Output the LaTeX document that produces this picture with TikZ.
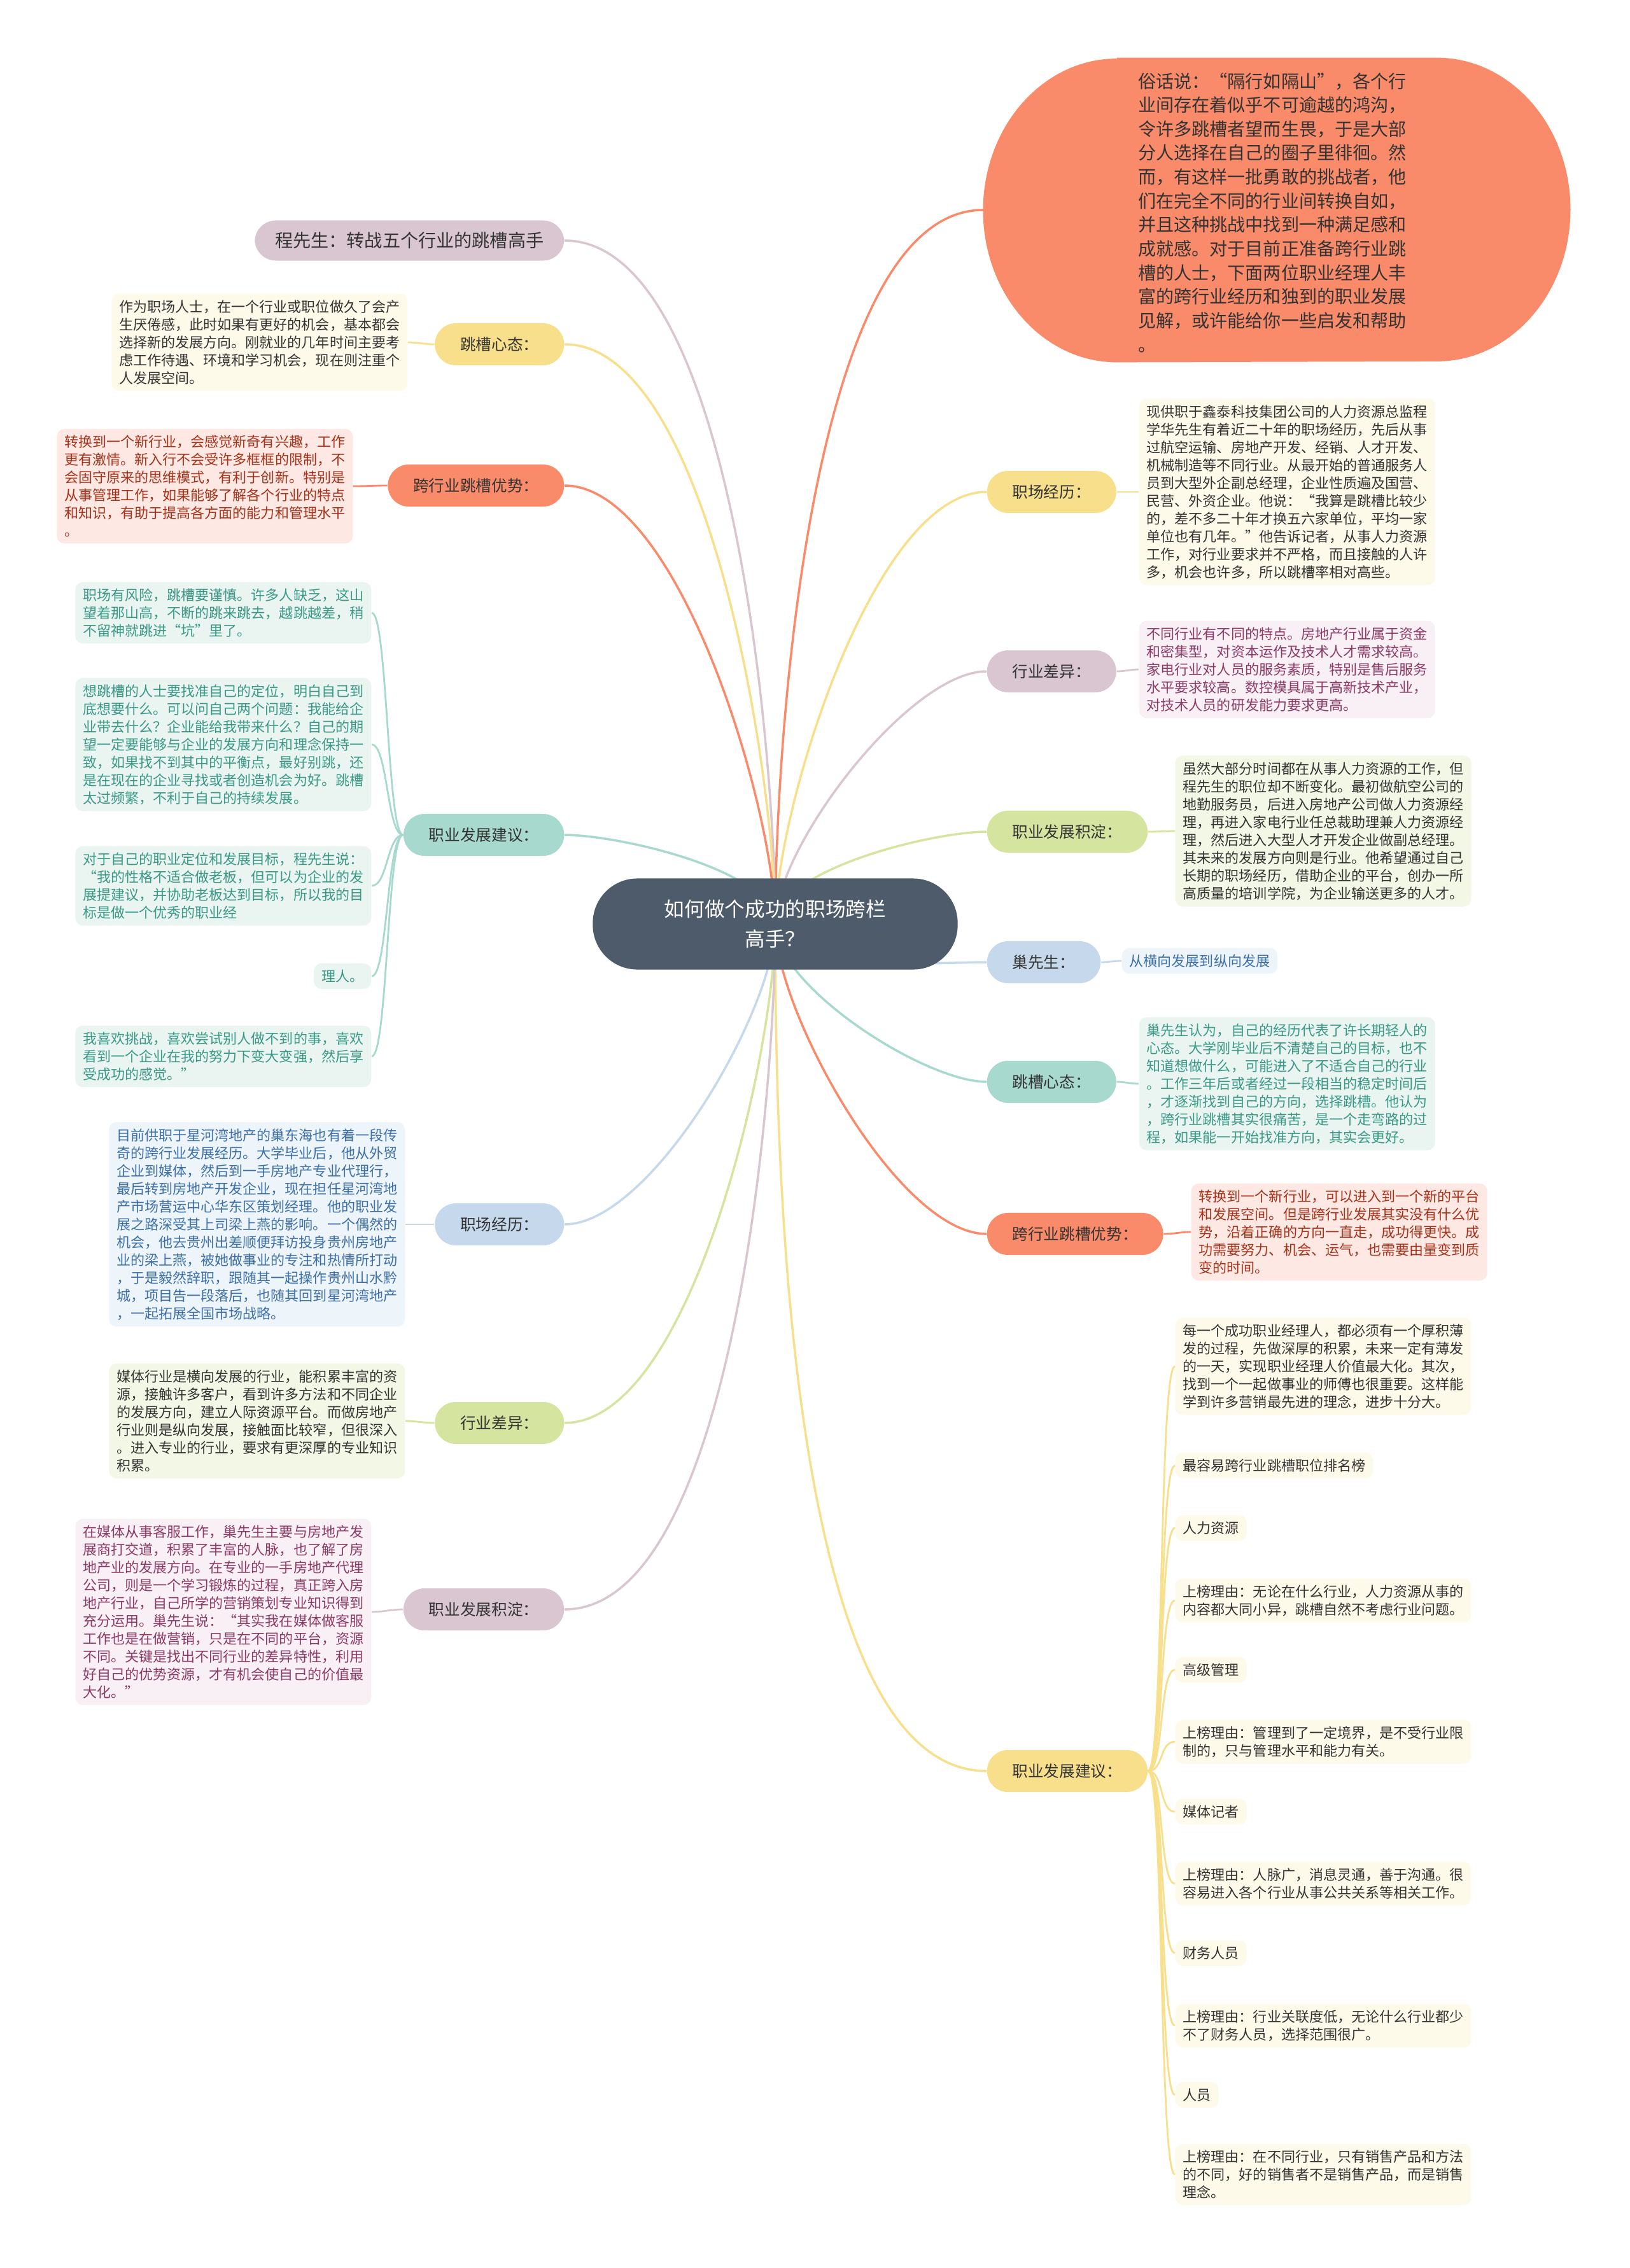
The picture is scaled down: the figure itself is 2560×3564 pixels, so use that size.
\documentclass[tikz,border=0pt]{standalone}
\usepackage{fontspec}
\setmainfont{Noto Sans CJK SC}
\usetikzlibrary{backgrounds}

\begin{document}
\begin{tikzpicture}[x=0.01cm, y=0.01cm,
    root/.style={fill=rootFill, text=white, rounded corners=0.7cm, minimum width=5.73cm, minimum height=1.43cm, align=center, font=\fontsize{9}{13.4}\selectfont},
    branch/.style={rounded corners=0.33cm, minimum height=0.66cm, inner xsep=0.4cm, inner ysep=0pt, text=textGrey, font=\fontsize{7}{8.5}\selectfont},
    leaf/.style={rounded corners=0.12cm, inner xsep=0.12cm, inner ysep=0.1cm, align=left, font=\fontsize{6.27}{7.97}\selectfont},
    trunk/.style={line width=1pt},
    twig/.style={line width=0.8pt}]

    \definecolor{rootFill}{HTML}{4D5B6A}
    \definecolor{textGrey}{HTML}{333333}
    \definecolor{coralFill}{HTML}{F98B6B}
    \definecolor{yellowFill}{HTML}{F8DF8C}
    \definecolor{mauveFill}{HTML}{D9C6D1}
    \definecolor{tealFill}{HTML}{A8D9CE}
    \definecolor{blueFill}{HTML}{C6D9EC}
    \definecolor{greenFill}{HTML}{D5E59F}
    \definecolor{coralLeaf}{HTML}{FDE8E3}
    \definecolor{yellowLeaf}{HTML}{FEFAEA}
    \definecolor{mauveLeaf}{HTML}{F8F0F4}
    \definecolor{tealLeaf}{HTML}{EAF5F2}
    \definecolor{blueLeaf}{HTML}{EDF4FA}
    \definecolor{greenLeaf}{HTML}{F3F7E5}
    \definecolor{coralText}{HTML}{A6321A}
    \definecolor{mauveText}{HTML}{8C3A66}
    \definecolor{tealText}{HTML}{3A9886}
    \definecolor{blueText}{HTML}{3D6FA8}

    \useasboundingbox (0,0) rectangle (2560,-3564);

    % Central topic
    \node[root] (root) at (1218,-1452) {如何做个成功的职场跨栏\\高手？};

    % Intro bubble (flat top and bottom, elliptic sides)
    \node[minimum width=9.21cm, minimum height=4.77cm, inner sep=0pt] (intro) at (2006,-330) {};
    \fill[coralFill] ([xshift=2.1cm]intro.north west) -- ([xshift=-2.1cm]intro.north east)
        arc[start angle=90, end angle=-90, x radius=2.1cm, y radius=2.385cm]
        -- ([xshift=2.1cm]intro.south west)
        arc[start angle=270, end angle=90, x radius=2.1cm, y radius=2.385cm] -- cycle;
    \node[align=left, text=textGrey, font=\fontsize{8}{10.7}\selectfont] (introText) at (1999,-334) {俗话说：“隔行如隔山”，各个行\\
业间存在着似乎不可逾越的鸿沟，\\
令许多跳槽者望而生畏，于是大部\\
分人选择在自己的圈子里徘徊。然\\
而，有这样一批勇敢的挑战者，他\\
们在完全不同的行业间转换自如，\\
并且这种挑战中找到一种满足感和\\
成就感。对于目前正准备跨行业跳\\
槽的人士，下面两位职业经理人丰\\
富的跨行业经历和独到的职业发展\\
见解，或许能给你一些启发和帮助\\
。};

    % Left branches
    \node[branch, fill=mauveFill, inner xsep=0.32cm, minimum height=0.63cm, font=\fontsize{8}{9.6}\selectfont, anchor=east] (lTitle) at (887,-378) {程先生：转战五个行业的跳槽高手};
    \node[branch, fill=yellowFill, anchor=east] (lMind) at (887,-541) {跳槽心态：};
    \node[branch, fill=coralFill, anchor=east] (lGood) at (887,-763) {跨行业跳槽优势：};
    \node[branch, fill=tealFill, anchor=east] (lAdvice) at (887,-1312) {职业发展建议：};
    \node[branch, fill=blueFill, anchor=east] (lCareer) at (887,-1924) {职场经历：};
    \node[branch, fill=greenFill, anchor=east] (lDiff) at (887,-2236) {行业差异：};
    \node[branch, fill=mauveFill, anchor=east] (lBase) at (887,-2529) {职业发展积淀：};

    % Right branches
    \node[branch, fill=yellowFill, anchor=west] (rCareer) at (1550,-773) {职场经历：};
    \node[branch, fill=mauveFill, anchor=west] (rDiff) at (1550,-1055) {行业差异：};
    \node[branch, fill=greenFill, anchor=west] (rBase) at (1550,-1307) {职业发展积淀：};
    \node[branch, fill=blueFill, anchor=west] (rChao) at (1550,-1512) {巢先生：};
    \node[branch, fill=tealFill, anchor=west] (rMind) at (1550,-1700) {跳槽心态：};
    \node[branch, fill=coralFill, anchor=west] (rGood) at (1550,-1939) {跨行业跳槽优势：};
    \node[branch, fill=yellowFill, anchor=west] (rAdvice) at (1550,-2783) {职业发展建议：};

    % Left leaves
    \node[leaf, fill=yellowLeaf, text=textGrey, anchor=east] (lMindLeaf) at (641,-538) {作为职场人士，在一个行业或职位做久了会产\\
生厌倦感，此时如果有更好的机会，基本都会\\
选择新的发展方向。刚就业的几年时间主要考\\
虑工作待遇、环境和学习机会，现在则注重个\\
人发展空间。};
    \node[leaf, fill=coralLeaf, text=coralText, anchor=east] (lGoodLeaf) at (555,-764) {转换到一个新行业，会感觉新奇有兴趣，工作\\
更有激情。新入行不会受许多框框的限制，不\\
会固守原来的思维模式，有利于创新。特别是\\
从事管理工作，如果能够了解各个行业的特点\\
和知识，有助于提高各方面的能力和管理水平\\
。};
    \node[leaf, fill=tealLeaf, text=tealText, anchor=east] (lAdvA) at (584,-963) {职场有风险，跳槽要谨慎。许多人缺乏，这山\\
望着那山高，不断的跳来跳去，越跳越差，稍\\
不留神就跳进“坑”里了。};
    \node[leaf, fill=tealLeaf, text=tealText, anchor=east] (lAdvB) at (584,-1170) {想跳槽的人士要找准自己的定位，明白自己到\\
底想要什么。可以问自己两个问题：我能给企\\
业带去什么？企业能给我带来什么？自己的期\\
望一定要能够与企业的发展方向和理念保持一\\
致，如果找不到其中的平衡点，最好别跳，还\\
是在现在的企业寻找或者创造机会为好。跳槽\\
太过频繁，不利于自己的持续发展。};
    \node[leaf, fill=tealLeaf, text=tealText, anchor=east] (lAdvC) at (584,-1392) {对于自己的职业定位和发展目标，程先生说：\\
“我的性格不适合做老板，但可以为企业的发\\
展提建议，并协助老板达到目标，所以我的目\\
标是做一个优秀的职业经};
    \node[leaf, fill=tealLeaf, text=tealText, anchor=east] (lAdvD) at (584,-1534) {理人。};
    \node[leaf, fill=tealLeaf, text=tealText, anchor=east] (lAdvE) at (584,-1660) {我喜欢挑战，喜欢尝试别人做不到的事，喜欢\\
看到一个企业在我的努力下变大变强，然后享\\
受成功的感觉。”};
    \node[leaf, fill=blueLeaf, text=blueText, anchor=east] (lCareerLeaf) at (637,-1924) {目前供职于星河湾地产的巢东海也有着一段传\\
奇的跨行业发展经历。大学毕业后，他从外贸\\
企业到媒体，然后到一手房地产专业代理行，\\
最后转到房地产开发企业，现在担任星河湾地\\
产市场营运中心华东区策划经理。他的职业发\\
展之路深受其上司梁上燕的影响。一个偶然的\\
机会，他去贵州出差顺便拜访投身贵州房地产\\
业的梁上燕，被她做事业的专注和热情所打动\\
，于是毅然辞职，跟随其一起操作贵州山水黔\\
城，项目告一段落后，也随其回到星河湾地产\\
，一起拓展全国市场战略。};
    \node[leaf, fill=greenLeaf, text=textGrey, anchor=east] (lDiffLeaf) at (637,-2233) {媒体行业是横向发展的行业，能积累丰富的资\\
源，接触许多客户，看到许多方法和不同企业\\
的发展方向，建立人际资源平台。而做房地产\\
行业则是纵向发展，接触面比较窄，但很深入\\
。进入专业的行业，要求有更深厚的专业知识\\
积累。};
    \node[leaf, fill=mauveLeaf, text=mauveText, anchor=east] (lBaseLeaf) at (584,-2533) {在媒体从事客服工作，巢先生主要与房地产发\\
展商打交道，积累了丰富的人脉，也了解了房\\
地产业的发展方向。在专业的一手房地产代理\\
公司，则是一个学习锻炼的过程，真正跨入房\\
地产行业，自己所学的营销策划专业知识得到\\
充分运用。巢先生说：“其实我在媒体做客服\\
工作也是在做营销，只是在不同的平台，资源\\
不同。关键是找出不同行业的差异特性，利用\\
好自己的优势资源，才有机会使自己的价值最\\
大化。”};

    % Right leaves
    \node[leaf, fill=yellowLeaf, text=textGrey, anchor=west] (rCareerLeaf) at (1789,-773) {现供职于鑫泰科技集团公司的人力资源总监程\\
学华先生有着近二十年的职场经历，先后从事\\
过航空运输、房地产开发、经销、人才开发、\\
机械制造等不同行业。从最开始的普通服务人\\
员到大型外企副总经理，企业性质遍及国营、\\
民营、外资企业。他说：“我算是跳槽比较少\\
的，差不多二十年才换五六家单位，平均一家\\
单位也有几年。”他告诉记者，从事人力资源\\
工作，对行业要求并不严格，而且接触的人许\\
多，机会也许多，所以跳槽率相对高些。};
    \node[leaf, fill=mauveLeaf, text=mauveText, anchor=west] (rDiffLeaf) at (1789,-1052) {不同行业有不同的特点。房地产行业属于资金\\
和密集型，对资本运作及技术人才需求较高。\\
家电行业对人员的服务素质，特别是售后服务\\
水平要求较高。数控模具属于高新技术产业，\\
对技术人员的研发能力要求更高。};
    \node[leaf, fill=greenLeaf, text=textGrey, anchor=west] (rBaseLeaf) at (1846,-1306) {虽然大部分时间都在从事人力资源的工作，但\\
程先生的职位却不断变化。最初做航空公司的\\
地勤服务员，后进入房地产公司做人力资源经\\
理，再进入家电行业任总裁助理兼人力资源经\\
理，然后进入大型人才开发企业做副总经理。\\
其未来的发展方向则是行业。他希望通过自己\\
长期的职场经历，借助企业的平台，创办一所\\
高质量的培训学院，为企业输送更多的人才。};
    \node[leaf, fill=blueLeaf, text=blueText, anchor=west] (rChaoLeaf) at (1762,-1510) {从横向发展到纵向发展};
    \node[leaf, fill=tealLeaf, text=tealText, anchor=west] (rMindLeaf) at (1789,-1703) {巢先生认为，自己的经历代表了许长期轻人的\\
心态。大学刚毕业后不清楚自己的目标，也不\\
知道想做什么，可能进入了不适合自己的行业\\
。工作三年后或者经过一段相当的稳定时间后\\
，才逐渐找到自己的方向，选择跳槽。他认为\\
，跨行业跳槽其实很痛苦，是一个走弯路的过\\
程，如果能一开始找准方向，其实会更好。};
    \node[leaf, fill=coralLeaf, text=coralText, anchor=west] (rGoodLeaf) at (1871,-1936) {转换到一个新行业，可以进入到一个新的平台\\
和发展空间。但是跨行业发展其实没有什么优\\
势，沿着正确的方向一直走，成功得更快。成\\
功需要努力、机会、运气，也需要由量变到质\\
变的时间。};

    % Ranking list under the right advice branch
    \node[leaf, fill=yellowLeaf, text=textGrey, anchor=west] (rAdv1) at (1846,-2147) {每一个成功职业经理人，都必须有一个厚积薄\\
发的过程，先做深厚的积累，未来一定有薄发\\
的一天，实现职业经理人价值最大化。其次，\\
找到一个一起做事业的师傅也很重要。这样能\\
学到许多营销最先进的理念，进步十分大。};
    \node[leaf, fill=yellowLeaf, text=textGrey, anchor=west] (rAdv2) at (1846,-2303) {最容易跨行业跳槽职位排名榜};
    \node[leaf, fill=yellowLeaf, text=textGrey, anchor=west] (rAdv3) at (1846,-2401) {人力资源};
    \node[leaf, fill=yellowLeaf, text=textGrey, anchor=west] (rAdv4) at (1846,-2515) {上榜理由：无论在什么行业，人力资源从事的\\
内容都大同小异，跳槽自然不考虑行业问题。};
    \node[leaf, fill=yellowLeaf, text=textGrey, anchor=west] (rAdv5) at (1846,-2624) {高级管理};
    \node[leaf, fill=yellowLeaf, text=textGrey, anchor=west] (rAdv6) at (1846,-2737) {上榜理由：管理到了一定境界，是不受行业限\\
制的，只与管理水平和能力有关。};
    \node[leaf, fill=yellowLeaf, text=textGrey, anchor=west] (rAdv7) at (1846,-2847) {媒体记者};
    \node[leaf, fill=yellowLeaf, text=textGrey, anchor=west] (rAdv8) at (1846,-2960) {上榜理由：人脉广，消息灵通，善于沟通。很\\
容易进入各个行业从事公共关系等相关工作。};
    \node[leaf, fill=yellowLeaf, text=textGrey, anchor=west] (rAdv9) at (1846,-3069) {财务人员};
    \node[leaf, fill=yellowLeaf, text=textGrey, anchor=west] (rAdv10) at (1846,-3183) {上榜理由：行业关联度低，无论什么行业都少\\
不了财务人员，选择范围很广。};
    \node[leaf, fill=yellowLeaf, text=textGrey, anchor=west] (rAdv11) at (1846,-3292) {人员};
    \node[leaf, fill=yellowLeaf, text=textGrey, anchor=west] (rAdv12) at (1846,-3417) {上榜理由：在不同行业，只有销售产品和方法\\
的不同，好的销售者不是销售产品，而是销售\\
理念。};

    \begin{pgfonlayer}{background}
        \fill[white] (0,0) rectangle (2560,-3564);

        % Root to branches
        \foreach \t/\c in {intro/coralFill, rCareer/yellowFill, rDiff/mauveFill, rBase/greenFill}
            \draw[trunk, draw=\c] (root.center) to[out=90, in=180, looseness=0.6] (\t.west);
        \foreach \t/\c in {rChao/blueFill, rMind/tealFill, rGood/coralFill, rAdvice/yellowFill}
            \draw[trunk, draw=\c] (root.center) to[out=-90, in=180, looseness=0.6] (\t.west);
        \foreach \t/\c in {lTitle/mauveFill, lMind/yellowFill, lGood/coralFill, lAdvice/tealFill}
            \draw[trunk, draw=\c] (root.center) to[out=90, in=0, looseness=0.6] (\t.east);
        \foreach \t/\c in {lCareer/blueFill, lDiff/greenFill, lBase/mauveFill}
            \draw[trunk, draw=\c] (root.center) to[out=-90, in=0, looseness=0.6] (\t.east);

        % Branches to single leaves
        \foreach \b/\l/\c in {lMind/lMindLeaf/yellowFill, lGood/lGoodLeaf/coralFill, lCareer/lCareerLeaf/blueFill, lDiff/lDiffLeaf/greenFill, lBase/lBaseLeaf/mauveFill}
            \draw[twig, draw=\c] (\b.west) to[out=180, in=0] (\l.east);
        \foreach \b/\l/\c in {rCareer/rCareerLeaf/yellowFill, rDiff/rDiffLeaf/mauveFill, rBase/rBaseLeaf/greenFill, rChao/rChaoLeaf/blueFill, rMind/rMindLeaf/tealFill, rGood/rGoodLeaf/coralFill}
            \draw[twig, draw=\c] (\b.east) to[out=0, in=180] (\l.west);

        % Bracketed leaves
        \foreach \n in {lAdvA, lAdvB, lAdvC, lAdvD, lAdvE}
            \draw[twig, draw=tealFill] (lAdvice.west) .. controls +(-25,0) and +(25,0) .. (\n.east);
        \foreach \i in {1,...,12}
            \draw[twig, draw=yellowFill] (rAdvice.east) .. controls +(25,0) and +(-25,0) .. (rAdv\i.west);
    \end{pgfonlayer}

\end{tikzpicture}
\end{document}
